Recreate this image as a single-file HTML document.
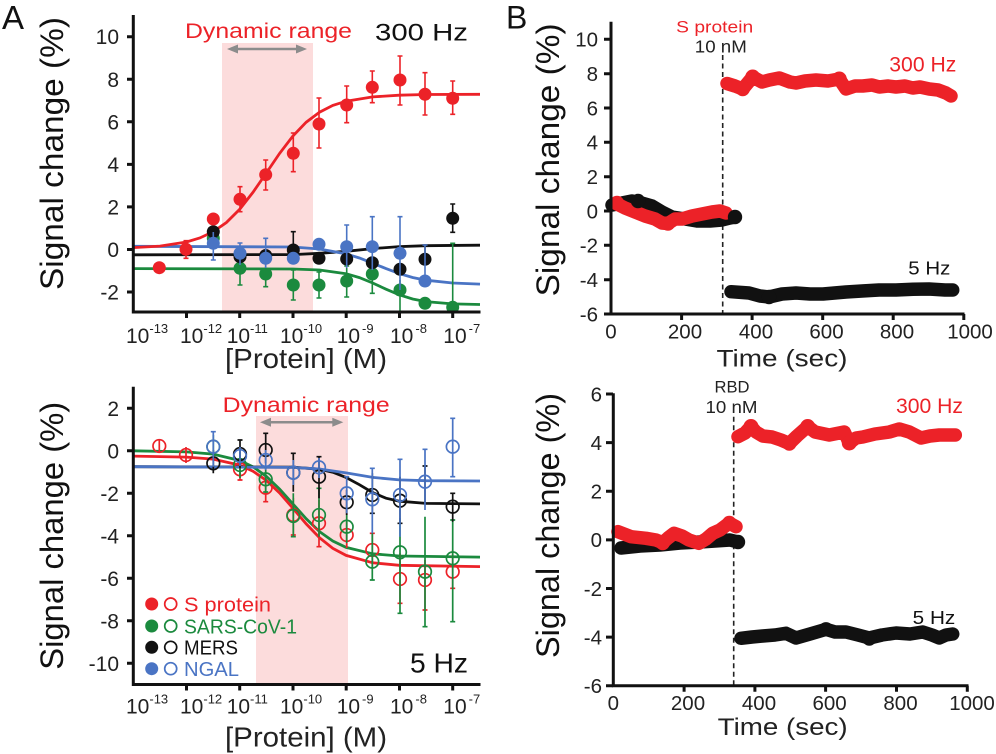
<!DOCTYPE html>
<html><head><meta charset="utf-8"><style>
html,body{margin:0;padding:0;background:#fff;}
svg{display:block;font-family:"Liberation Sans",Arial,sans-serif;}
</style></head><body>
<svg width="996" height="754" viewBox="0 0 996 754" xmlns="http://www.w3.org/2000/svg">
<rect width="996" height="754" fill="#fff"/>

<!-- ================= TOP LEFT ================= -->
<rect x="222" y="43" width="91" height="269" fill="#fcdcdc"/>
<g stroke="#8c8c8c" stroke-width="2.5" fill="#8c8c8c">
<line x1="236" y1="49" x2="298" y2="49"/>
<polygon points="227,49 238,44.5 238,53.5" stroke="none"/>
<polygon points="307,49 296,44.5 296,53.5" stroke="none"/>
</g>
<text x="185" y="38" font-size="21.5" fill="#ec2228" textLength="167" lengthAdjust="spacingAndGlyphs">Dynamic range</text>
<text x="375" y="40.5" font-size="24.5" fill="#111" textLength="93" lengthAdjust="spacingAndGlyphs">300 Hz</text>
<text x="2" y="29" font-size="33" fill="#111">A</text>
<text transform="translate(63,153.5) rotate(-90)" text-anchor="middle" font-size="32" fill="#111" textLength="273" lengthAdjust="spacingAndGlyphs">Signal change (%)</text>

<!-- curves -->
<g fill="none" stroke-width="2.8">
<polyline stroke="#1b8a3e" points="133.3,268.6 292.9,269 319.5,270 346.1,273.7 359.4,277.6 372.7,283 386,289.2 399.3,294.8 412.6,299 425.9,301.6 452.5,303.9 480,304.5"/>
<polyline stroke="#111" points="133.3,254.8 292.9,254.6 319.5,253.3 346.1,251.3 372.7,248.6 399.3,246.6 425.9,245.7 480,245.2"/>
<polyline stroke="#4a74c4" points="133.3,246.3 292.9,247 319.5,249 346.1,253.9 359.4,258 372.7,263.2 386,268.6 399.3,273.6 412.6,277.5 425.9,280.2 452.5,283 480,284.1"/>
<polyline stroke="#ec2228" points="133.3,247.6 159.9,246.1 186.5,242 199.8,238 213.1,231.8 226.4,222.5 239.7,209.3 253,192.3 266.3,173 279.6,153.4 292.9,136 306.2,122.2 319.5,112.2 332.8,105.4 346.1,101.2 372.7,96.9 399.3,95.2 425.9,94.5 480,94.3"/>
</g>
<!-- green points -->
<g stroke="#1b8a3e" stroke-width="1.6" fill="none">
<path d="M240 253.3V285M237.5 253.3h5M237.5 285h5"/>
<path d="M265.7 260V286.7M263.2 260h5M263.2 286.7h5"/>
<path d="M293.3 270V300M290.8 270h5M290.8 300h5"/>
<path d="M319 272V298M316.5 272h5M316.5 298h5"/>
<path d="M346.7 266V297M344.2 266h5M344.2 297h5"/>
<path d="M372.3 261.7V293.3M369.8 261.7h5M369.8 293.3h5"/>
<path d="M400 280V311"/>
<path d="M452.7 243.3V312M450.2 243.3h5"/>
</g>
<g fill="#1b8a3e">
<circle cx="213.3" cy="238.3" r="6.5"/><circle cx="240" cy="268.3" r="6.5"/><circle cx="265.7" cy="274" r="6.5"/>
<circle cx="293.3" cy="285" r="6.5"/><circle cx="319" cy="285" r="6.5"/><circle cx="346.7" cy="281" r="6.5"/>
<circle cx="372.3" cy="274" r="6.5"/><circle cx="400" cy="290" r="6.5"/><circle cx="425" cy="303.3" r="6.5"/>
<circle cx="452.7" cy="307.3" r="6.5"/>
</g>
<!-- black points -->
<g stroke="#111" stroke-width="1.6" fill="none">
<path d="M293.3 231.7V262M290.8 231.7h5"/>
<path d="M425 245V262M422.5 245h5"/>
<path d="M452.7 204V232.3M450.2 204h5M450.2 232.3h5"/>
</g>
<g fill="#111">
<circle cx="213.3" cy="231.7" r="6.5"/><circle cx="240" cy="256.7" r="6.5"/><circle cx="265.7" cy="255.5" r="6.5"/>
<circle cx="293.3" cy="250" r="6.5"/><circle cx="319" cy="258.3" r="6.5"/><circle cx="346.7" cy="259" r="6.5"/>
<circle cx="372.3" cy="262.7" r="6.5"/><circle cx="400" cy="269.3" r="6.5"/><circle cx="425" cy="259.3" r="6.5"/>
<circle cx="452.7" cy="218.3" r="6.5"/>
</g>
<!-- blue points -->
<g stroke="#4a74c4" stroke-width="1.6" fill="none">
<path d="M213.3 232V260M210.8 260h5"/>
<path d="M240 243V265M237.5 243h5"/>
<path d="M265.7 238.3V268M263.2 238.3h5"/>
<path d="M346.7 225V268M344.2 225h5"/>
<path d="M372.3 216.7V270M369.8 216.7h5"/>
<path d="M400 216.7V290M397.5 216.7h5"/>
<path d="M425 245V281M422.5 245h5"/>
</g>
<g fill="#4a74c4">
<circle cx="213.3" cy="243.3" r="6.5"/><circle cx="240" cy="253.3" r="6.5"/><circle cx="265.7" cy="258.3" r="6.5"/>
<circle cx="293.3" cy="258.3" r="6.5"/><circle cx="319" cy="244.3" r="6.5"/><circle cx="346.7" cy="246.7" r="6.5"/>
<circle cx="372.3" cy="246.7" r="6.5"/><circle cx="400" cy="253.3" r="6.5"/><circle cx="425" cy="281" r="6.5"/>
</g>
<!-- red points -->
<g stroke="#ec2228" stroke-width="1.6" fill="none">
<path d="M186 240.7V258.3M183.5 240.7h5M183.5 258.3h5"/>
<path d="M240 186.7V211.7M237.5 186.7h5M237.5 211.7h5"/>
<path d="M265.7 160V190M263.2 160h5M263.2 190h5"/>
<path d="M293.3 133V171.7M290.8 133h5M290.8 171.7h5"/>
<path d="M319 98V148M316.5 98h5M316.5 148h5"/>
<path d="M346.7 86V122.7M344.2 86h5M344.2 122.7h5"/>
<path d="M372.3 71V102.7M369.8 71h5M369.8 102.7h5"/>
<path d="M400 56V105M397.5 56h5M397.5 105h5"/>
<path d="M425 72.7V115M422.5 72.7h5M422.5 115h5"/>
<path d="M452.7 81V114.3M450.2 81h5M450.2 114.3h5"/>
</g>
<g fill="#ec2228">
<circle cx="159.3" cy="267.7" r="6.5"/><circle cx="186" cy="249.3" r="6.5"/><circle cx="213.3" cy="219" r="6.5"/>
<circle cx="240" cy="199.3" r="6.5"/><circle cx="265.7" cy="174.7" r="6.5"/><circle cx="293.3" cy="153.3" r="6.5"/>
<circle cx="319" cy="124" r="6.5"/><circle cx="346.7" cy="105" r="6.5"/><circle cx="372.3" cy="87.3" r="6.5"/>
<circle cx="400" cy="80" r="6.5"/><circle cx="425" cy="94.3" r="6.5"/><circle cx="452.7" cy="98.3" r="6.5"/>
</g>
<!-- axes -->
<g stroke="#111" stroke-width="3" fill="none">
<path d="M133.3 15V313.5M131.8 312H480.5"/>
<path d="M127 36.7h6M127 79.25h6M127 121.8h6M127 164.35h6M127 206.9h6M127 249.45h6M127 292h6"/>
<path d="M186.5 312v6M239.7 312v6M293 312v6M346.2 312v6M399.5 312v6M452.7 312v6"/>
</g>
<g font-size="21" fill="#222" text-anchor="end">
<text x="119" y="44.2">10</text><text x="119" y="86.8">8</text><text x="119" y="129.3">6</text>
<text x="119" y="171.9">4</text><text x="119" y="214.4">2</text><text x="119" y="257">0</text><text x="119" y="299.5">-2</text>
</g>
<g font-size="21" fill="#222">
<text x="126" y="343">10<tspan font-size="13" dy="-10">-13</tspan></text>
<text x="180" y="343">10<tspan font-size="13" dy="-10">-12</tspan></text>
<text x="226.7" y="343">10<tspan font-size="13" dy="-10">-11</tspan></text>
<text x="280" y="343">10<tspan font-size="13" dy="-10">-10</tspan></text>
<text x="336.7" y="343">10<tspan font-size="13" dy="-10" dx="2">-9</tspan></text>
<text x="390" y="343">10<tspan font-size="13" dy="-10" dx="2">-8</tspan></text>
<text x="443.3" y="343">10<tspan font-size="13" dy="-10" dx="2">-7</tspan></text>
</g>
<text x="306" y="368" font-size="28" fill="#222" text-anchor="middle" textLength="162" lengthAdjust="spacingAndGlyphs">[Protein] (M)</text>

<!-- ================= BOTTOM LEFT ================= -->
<rect x="256" y="416" width="92" height="268" fill="#fcdcdc"/>
<g stroke="#8c8c8c" stroke-width="2.5" fill="#8c8c8c">
<line x1="269" y1="422.3" x2="334" y2="422.3"/>
<polygon points="260,422.3 271,417.8 271,426.8" stroke="none"/>
<polygon points="343.3,422.3 332.3,417.8 332.3,426.8" stroke="none"/>
</g>
<text x="222.7" y="412" font-size="21.5" fill="#ec2228" textLength="167" lengthAdjust="spacingAndGlyphs">Dynamic range</text>
<text x="410" y="672.7" font-size="28" fill="#111" textLength="58" lengthAdjust="spacingAndGlyphs">5 Hz</text>
<text transform="translate(63,535.8) rotate(-90)" text-anchor="middle" font-size="32" fill="#111" textLength="268" lengthAdjust="spacingAndGlyphs">Signal change (%)</text>

<g fill="none" stroke-width="2.8">
<polyline stroke="#ec2228" points="133.3,456.1 186.5,457.1 213.1,459.1 239.7,465.1 253,471.2 266.3,480.4 279.6,493 292.9,508.2 306.2,523.9 319.5,537.7 332.8,548.3 346.1,555.4 372.7,562.8 399.3,565.3 480,566.6"/>
<polyline stroke="#1b8a3e" points="133.3,450.8 186.5,451.9 213.1,454.1 239.7,460.5 253,466.8 266.3,476.3 279.6,489.1 292.9,503.9 306.2,518.8 319.5,531.6 332.8,541 346.1,547.4 372.7,553.8 399.3,556 480,557.1"/>
<polyline stroke="#111" points="133.3,466.7 292.9,467.2 319.5,469.2 332.8,472.2 346.1,477.5 359.4,484.7 372.7,492.6 386,498.2 399.3,501.2 425.9,503.4 480,503.9"/>
<polyline stroke="#4a74c4" points="133.3,466.7 292.9,467.4 319.5,469 346.1,472.9 372.7,477.4 399.3,479.9 425.9,480.7 480,481"/>
</g>
<!-- hollow points -->
<g stroke="#ec2228" stroke-width="1.7" fill="none">
<path d="M159.3 440V452M186 447V463M240 461.7V480M265.7 476.7V501.7M293.3 498V535M319 500V546.7M346.7 522V548M372.3 533.3V566.7M400 553.3V603.3M425 560V610M452.7 550V588.3"/>
<path d="M237.5 480h5M263.2 501.7h5M290.8 535h5M316.5 546.7h5M369.8 533.3h5M397.5 603.3h5M422.5 610h5M450.2 588.3h5"/>
<circle cx="159.3" cy="446" r="6.3"/><circle cx="186" cy="455" r="6.3"/><circle cx="240" cy="469.3" r="6.3"/>
<circle cx="265.7" cy="487.7" r="6.3"/><circle cx="293.3" cy="515" r="6.3"/><circle cx="319" cy="523.3" r="6.3"/>
<circle cx="346.7" cy="535" r="6.3"/><circle cx="372.3" cy="550" r="6.3"/><circle cx="400" cy="579" r="6.3"/>
<circle cx="425" cy="580" r="6.3"/><circle cx="452.7" cy="571.7" r="6.3"/>
</g>
<g stroke="#1b8a3e" stroke-width="1.7" fill="none">
<path d="M213.3 435V458M240 452V478M265.7 466V492M293.3 493.3V536.7M319 488.3V536.7M346.7 510V543M372.3 533.3V580M400 518.3V613.3M425 516.7V626.7M452.7 520V621.7"/>
<path d="M263.2 492h5M290.8 536.7h5M316.5 488.3h5M369.8 580h5M397.5 613.3h5M422.5 626.7h5M450.2 621.7h5M450.2 520h5"/>
<circle cx="213.3" cy="446.7" r="6.3"/><circle cx="240" cy="465" r="6.3"/><circle cx="265.7" cy="479.3" r="6.3"/>
<circle cx="293.3" cy="516" r="6.3"/><circle cx="319" cy="515" r="6.3"/><circle cx="346.7" cy="526.7" r="6.3"/>
<circle cx="372.3" cy="561.7" r="6.3"/><circle cx="400" cy="552.3" r="6.3"/><circle cx="425" cy="571.7" r="6.3"/>
<circle cx="452.7" cy="558.3" r="6.3"/>
</g>
<g stroke="#111" stroke-width="1.7" fill="none">
<path d="M213.3 450V473.3M240 440V468.3M265.7 433.3V463.3M293.3 453.3V491.7M319 456.7V498.3M346.7 490V515M372.3 473.3V513.3M400 476.7V523.3M425 466V504M452.7 493.3V521.7"/>
<path d="M237.5 440h5M263.2 433.3h5M290.8 453.3h5M316.5 456.7h5M369.8 513.3h5M397.5 523.3h5M422.5 466h5M450.2 493.3h5"/>
<circle cx="213.3" cy="463.3" r="6.3"/><circle cx="240" cy="454" r="6.3"/><circle cx="265.7" cy="450" r="6.3"/>
<circle cx="293.3" cy="472.7" r="6.3"/><circle cx="319" cy="476.7" r="6.3"/><circle cx="346.7" cy="502.3" r="6.3"/>
<circle cx="372.3" cy="495" r="6.3"/><circle cx="400" cy="500.7" r="6.3"/><circle cx="452.7" cy="506.7" r="6.3"/>
</g>
<g stroke="#4a74c4" stroke-width="1.7" fill="none">
<path d="M213.3 431.7V466.7M240 447V466M265.7 450V470M293.3 460V485M319 458V478M346.7 476.7V513.3M372.3 468.3V533.3M400 459.3V536.7M425 449.3V510M452.7 418.3V476.7"/>
<path d="M210.8 431.7h5M344.2 476.7h5M369.8 468.3h5M397.5 459.3h5M422.5 449.3h5M450.2 418.3h5M450.2 476.7h5"/>
<circle cx="213.3" cy="446.7" r="6.3"/><circle cx="240" cy="456" r="6.3"/><circle cx="265.7" cy="460" r="6.3"/>
<circle cx="293.3" cy="472.7" r="6.3"/><circle cx="319" cy="467.3" r="6.3"/><circle cx="346.7" cy="493.3" r="6.3"/>
<circle cx="372.3" cy="499.3" r="6.3"/><circle cx="400" cy="495" r="6.3"/><circle cx="425" cy="481.7" r="6.3"/>
<circle cx="452.7" cy="446.7" r="6.3"/>
</g>
<!-- legend -->
<circle cx="151.7" cy="604" r="6.5" fill="#ec2228"/><circle cx="170.7" cy="604" r="6" fill="none" stroke="#ec2228" stroke-width="1.7"/>
<circle cx="151.7" cy="626" r="6.5" fill="#1b8a3e"/><circle cx="170.7" cy="626" r="6" fill="none" stroke="#1b8a3e" stroke-width="1.7"/>
<circle cx="151.7" cy="647.3" r="6.5" fill="#111"/><circle cx="170.7" cy="647.3" r="6" fill="none" stroke="#111" stroke-width="1.7"/>
<circle cx="151.7" cy="668.7" r="6.5" fill="#4a74c4"/><circle cx="170.7" cy="668.7" r="6" fill="none" stroke="#4a74c4" stroke-width="1.7"/>
<g font-size="20">
<text x="184" y="611.3" fill="#ec2228" textLength="87" lengthAdjust="spacingAndGlyphs">S protein</text>
<text x="184" y="633.3" fill="#1b8a3e" textLength="113" lengthAdjust="spacingAndGlyphs">SARS-CoV-1</text>
<text x="184" y="654.6" fill="#111" textLength="54" lengthAdjust="spacingAndGlyphs">MERS</text>
<text x="184" y="676" fill="#4a74c4" textLength="55" lengthAdjust="spacingAndGlyphs">NGAL</text>
</g>
<g stroke="#111" stroke-width="3" fill="none">
<path d="M133.3 386.7V686M131.8 684.5H480.5"/>
<path d="M127 408.3h6M127 450.8h6M127 493.3h6M127 535.8h6M127 578.3h6M127 620.8h6M127 663.3h6"/>
<path d="M186.5 684.5v6M239.7 684.5v6M293 684.5v6M346.2 684.5v6M399.5 684.5v6M452.7 684.5v6"/>
</g>
<g font-size="21" fill="#222" text-anchor="end">
<text x="119" y="415.8">2</text><text x="119" y="458.3">0</text><text x="119" y="500.8">-2</text>
<text x="119" y="543.3">-4</text><text x="119" y="585.8">-6</text><text x="119" y="628.3">-8</text><text x="119" y="670.8">-10</text>
</g>
<g font-size="21" fill="#222">
<text x="126" y="713.5">10<tspan font-size="13" dy="-10">-13</tspan></text>
<text x="180" y="713.5">10<tspan font-size="13" dy="-10">-12</tspan></text>
<text x="226.7" y="713.5">10<tspan font-size="13" dy="-10">-11</tspan></text>
<text x="280" y="713.5">10<tspan font-size="13" dy="-10">-10</tspan></text>
<text x="336.7" y="713.5">10<tspan font-size="13" dy="-10" dx="2">-9</tspan></text>
<text x="390" y="713.5">10<tspan font-size="13" dy="-10" dx="2">-8</tspan></text>
<text x="443.3" y="713.5">10<tspan font-size="13" dy="-10" dx="2">-7</tspan></text>
</g>
<text x="306" y="746.7" font-size="28" fill="#222" text-anchor="middle" textLength="162" lengthAdjust="spacingAndGlyphs">[Protein] (M)</text>

<!-- ================= TOP RIGHT ================= -->
<text x="506" y="28.3" font-size="32" fill="#111">B</text>
<text transform="translate(559,159.9) rotate(-90)" text-anchor="middle" font-size="32" fill="#111" textLength="273" lengthAdjust="spacingAndGlyphs">Signal change (%)</text>
<line x1="722.7" y1="55" x2="722.7" y2="314" stroke="#222" stroke-width="1.6" stroke-dasharray="5,3.5"/>
<text x="714.7" y="32.3" font-size="17" fill="#ec2228" text-anchor="middle" textLength="77" lengthAdjust="spacingAndGlyphs">S protein</text>
<text x="720.8" y="52.7" font-size="17.5" fill="#222" text-anchor="middle" textLength="52" lengthAdjust="spacingAndGlyphs">10 nM</text>
<text x="889.3" y="71.7" font-size="21" fill="#ec2228" textLength="67" lengthAdjust="spacingAndGlyphs">300 Hz</text>
<text x="908.3" y="274.3" font-size="18.5" fill="#111" textLength="42" lengthAdjust="spacingAndGlyphs">5 Hz</text>
<g fill="none" stroke-width="13.5" stroke-linecap="round" stroke-linejoin="round">
<polyline stroke="#111" points="612,205 622,203 632,201 638,202 652,206 662,212 672,217 685,219 697,221 710,221 722,220 730,218 735,217"/>
<polyline stroke="#ec2228" points="617,204 625,208 635,212 645,216 655,219 662,223 668,223.5 675,219 682,219 692,216 702,214 712,212 720,211 726,213"/>
<polyline stroke="#111" points="731,291.7 749,293 760,296 769,297 782,294 796,293 810,294 823,294 846,292 862,291 879,290 896,290 913,289.3 929,289 945,290 952.7,290"/>
<polyline stroke="#ec2228" points="727,83.5 735,86 742.7,89 752.7,77 762,82 769.3,80 779.3,78 790,82 796,83 805,81 816,80 828,81 839.3,79 846,89 855,86 862.7,86 872,85 879.3,87 888,86 896,87 905,86 912.7,88 920,87 929.3,89 938,90 946,93 951,96"/>
</g>
<g fill="#ec2228">
<circle cx="752.7" cy="77" r="7.5"/><circle cx="839.3" cy="79" r="7.5"/><circle cx="742.7" cy="89" r="7.2"/><circle cx="668" cy="223.5" r="7.2"/><circle cx="617" cy="203" r="7.2"/>
</g>
<g fill="#111">
<circle cx="769" cy="297" r="7.2"/><circle cx="638" cy="201" r="7.2"/><circle cx="735" cy="217" r="7.2"/>
</g>
<g stroke="#111" stroke-width="3" fill="none">
<path d="M611 21.7V315.5M609.5 314H964.5"/>
<path d="M604 39.3h7M604 73.7h7M604 108h7M604 142.3h7M604 176.7h7M604 211h7M604 245.3h7M604 279.7h7M604 314h7"/>
<path d="M681.6 314v6M752.1 314v6M822.7 314v6M893.2 314v6M963.8 314v6"/>
</g>
<g font-size="20.5" fill="#222" text-anchor="end">
<text x="598" y="46.6">10</text><text x="598" y="81">8</text><text x="598" y="115.3">6</text>
<text x="598" y="149.6">4</text><text x="598" y="184">2</text><text x="598" y="218.3">0</text>
<text x="598" y="252.6">-2</text><text x="598" y="287">-4</text><text x="598" y="321.3">-6</text>
</g>
<g font-size="20.5" fill="#222" text-anchor="middle">
<text x="611" y="338.3">0</text><text x="685" y="338.3">200</text><text x="756" y="338.3">400</text>
<text x="826.5" y="338.3">600</text><text x="897" y="338.3">800</text><text x="970" y="338.3">1000</text>
</g>
<text x="782" y="366.7" font-size="24" fill="#222" text-anchor="middle" textLength="131" lengthAdjust="spacingAndGlyphs">Time (sec)</text>

<!-- ================= BOTTOM RIGHT ================= -->
<text transform="translate(559,525.5) rotate(-90)" text-anchor="middle" font-size="32" fill="#111" textLength="265" lengthAdjust="spacingAndGlyphs">Signal change (%)</text>
<line x1="733.7" y1="416.7" x2="733.7" y2="685.7" stroke="#222" stroke-width="1.6" stroke-dasharray="5,3.5"/>
<text x="732" y="392.3" font-size="17" fill="#222" text-anchor="middle" textLength="35" lengthAdjust="spacingAndGlyphs">RBD</text>
<text x="731.5" y="413" font-size="17.5" fill="#222" text-anchor="middle" textLength="52" lengthAdjust="spacingAndGlyphs">10 nM</text>
<text x="896" y="413" font-size="21" fill="#ec2228" textLength="67" lengthAdjust="spacingAndGlyphs">300 Hz</text>
<text x="912.7" y="624" font-size="18.5" fill="#111" textLength="42.6" lengthAdjust="spacingAndGlyphs">5 Hz</text>
<g fill="none" stroke-width="13.5" stroke-linecap="round" stroke-linejoin="round">
<polyline stroke="#111" points="621,548 640,546 660,545 680,543 700,542 715,541 730,540 738,542"/>
<polyline stroke="#ec2228" points="618,531.7 631,536.7 646,538.3 656,540 662.7,542.7 668,538 674,533.3 682,536 689,540 699,543.3 706,539 712.7,533.3 720,530 729.3,523 736,526.7"/>
<polyline stroke="#111" points="741,638.3 752,637 762.7,636 775,635 786,633.3 796,638 810,634 826,629.3 835,632 846,632 858,635 869.3,638 882,635 896,633 910,634 922.7,632 932,635 939.3,638 946,635 952.7,634"/>
<polyline stroke="#ec2228" points="738,436.7 745,433 751,426.5 756,432 762.7,436 772,437 781,440 789.3,443.5 797,436 807.7,426.5 815,432 829.3,435 844.3,432 849.3,443 856,438 862.7,437 875,434 889.3,432 899.3,429 909.3,432 921,438 930,436 939.3,435 948,435 955.3,435"/>
</g>
<g fill="#ec2228">
<circle cx="751" cy="426.5" r="7.5"/><circle cx="807.7" cy="426.5" r="7.5"/><circle cx="849.3" cy="443" r="7.5"/><circle cx="789.3" cy="443.5" r="7.2"/><circle cx="729.3" cy="523" r="7.2"/><circle cx="662.7" cy="543" r="7.2"/>
</g>
<g fill="#111">
<circle cx="738" cy="542" r="7.2"/><circle cx="869.3" cy="638.5" r="7.2"/><circle cx="826" cy="629.3" r="7.2"/>
</g>
<g stroke="#111" stroke-width="3" fill="none">
<path d="M613.3 393.3V687.2M611.8 685.7H968.5"/>
<path d="M606 394h7M606 442.6h7M606 491.2h7M606 539.9h7M606 588.5h7M606 637.1h7M606 685.7h7"/>
<path d="M684.1 685.7v6M754.9 685.7v6M825.6 685.7v6M896.5 685.7v6M967.3 685.7v6"/>
</g>
<g font-size="20.5" fill="#222" text-anchor="end">
<text x="602" y="401.3">6</text><text x="602" y="449.9">4</text><text x="602" y="498.5">2</text>
<text x="602" y="547.2">0</text><text x="602" y="595.8">-2</text><text x="602" y="644.4">-4</text><text x="602" y="693">-6</text>
</g>
<g font-size="20.5" fill="#222" text-anchor="middle">
<text x="613.3" y="710">0</text><text x="688" y="710">200</text><text x="759" y="710">400</text>
<text x="829.6" y="710">600</text><text x="900.5" y="710">800</text><text x="972" y="710">1000</text>
</g>
<text x="782.7" y="735" font-size="24" fill="#222" text-anchor="middle" textLength="130" lengthAdjust="spacingAndGlyphs">Time (sec)</text>
</svg>
</body></html>
